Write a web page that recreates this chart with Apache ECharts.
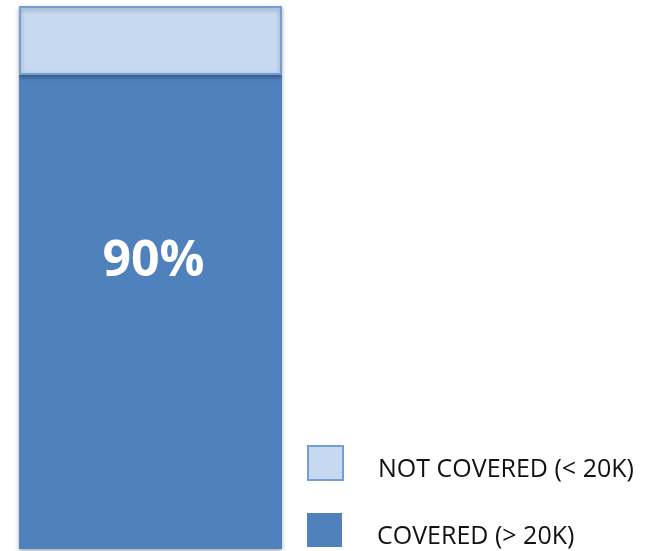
<!DOCTYPE html>
<html>
<head>
<meta charset="utf-8">
<script src="https://cdn.jsdelivr.net/npm/echarts@6/dist/echarts.min.js"></script>
<style>
  html, body { margin: 0; padding: 0; background: #fff; }
  #chart { width: 652px; height: 551px; }
</style>
</head>
<body>
<div id="chart"></div>
<script>
// one stacked column
const categories = ["Coverage"];
const coveredValues = [87.3];
const notCoveredValues = [12.7];
const coveredLabel = "90%";
const seriesNames = ["NOT COVERED (< 20K)", "COVERED (> 20K)"];
const legendTops = [445, 513];

const chart = echarts.init(document.getElementById("chart"), null, { renderer: "canvas" });

// one legend per entry so each row can sit where the picture has it
const legends = seriesNames.map((name, i) => ({
  orient: "vertical",
  left: 307,
  top: legendTops[i],
  padding: 0,
  itemWidth: 35,
  itemHeight: 34,
  icon: "rect",
  data: [name],
  formatter: n => "{t|" + n + "}",
  textStyle: {
    rich: {
      t: {
        fontFamily: "Open Sans",
        fontSize: 25,
        color: "#111",
        padding: [14, 0, 0, 30]
      }
    }
  }
}));

const option = {
  backgroundColor: "#ffffff",
  animation: false,
  textStyle: { fontFamily: "Open Sans" },
  grid: { left: 19, right: 370, top: 6, bottom: 2 },
  xAxis: {
    type: "category",
    data: categories,
    show: false
  },
  yAxis: {
    type: "value",
    min: 0,
    max: 100,
    show: false
  },
  legend: legends,
  series: [
    {
      name: seriesNames[1],
      type: "bar",
      stack: "total",
      barWidth: "100%",
      data: coveredValues,
      itemStyle: {
        color: "#4f81bd",
        shadowColor: "rgba(0,0,0,0.35)",
        shadowBlur: 4,
        shadowOffsetY: 2
      },
      label: {
        show: true,
        position: "inside",
        offset: [3, -50],
        formatter: () => coveredLabel,
        color: "#fff",
        fontSize: 50,
        fontWeight: "bold"
      }
    },
    {
      name: seriesNames[0],
      type: "bar",
      stack: "total",
      barWidth: "100%",
      data: notCoveredValues,
      itemStyle: {
        color: "#c6d9f1",
        borderColor: "#729fd6",
        borderWidth: 2,
        shadowColor: "rgba(0,0,0,0.3)",
        shadowBlur: 4,
        shadowOffsetY: 2
      }
    }
  ]
};

chart.setOption(option);
</script>
</body>
</html>
